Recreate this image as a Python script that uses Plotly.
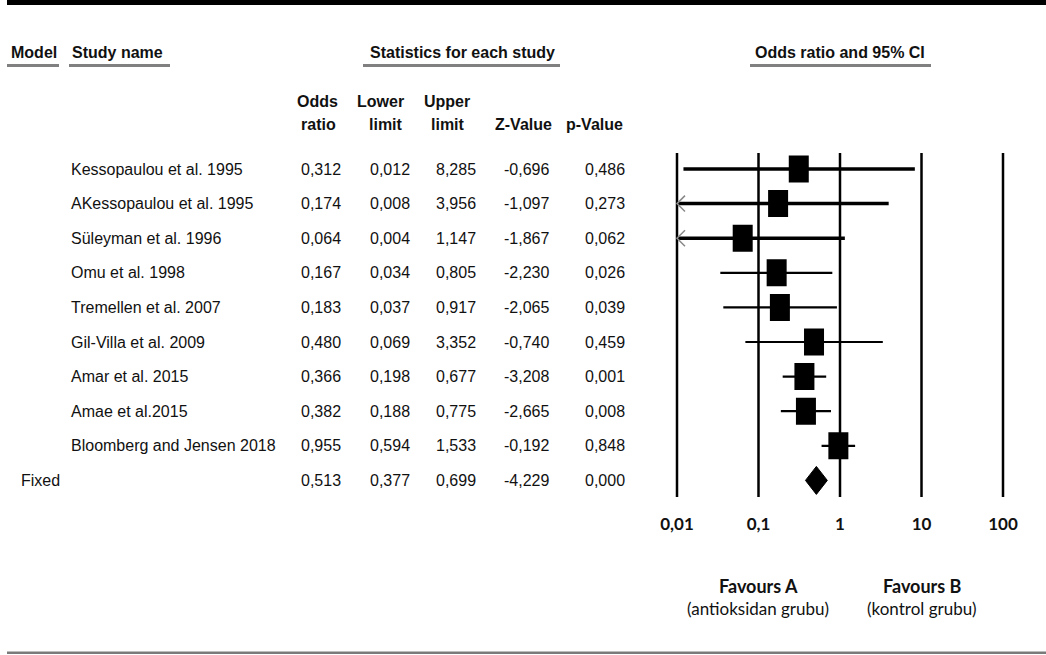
import plotly.graph_objects as go

# ---------------- data ----------------
studies = ["Kessopaulou et al. 1995", "AKessopaulou et al. 1995", "Süleyman et al. 1996",
           "Omu et al. 1998", "Tremellen et al. 2007", "Gil-Villa et al. 2009",
           "Amar et al. 2015", "Amae et al.2015", "Bloomberg and Jensen 2018"]
odds = [0.312, 0.174, 0.064, 0.167, 0.183, 0.480, 0.366, 0.382, 0.955]
lower = [0.012, 0.008, 0.004, 0.034, 0.037, 0.069, 0.198, 0.188, 0.594]
upper = [8.285, 3.956, 1.147, 0.805, 0.917, 3.352, 0.677, 0.775, 1.533]
zval = [-0.696, -1.097, -1.867, -2.230, -2.065, -0.740, -3.208, -2.665, -0.192]
pval = [0.486, 0.273, 0.062, 0.026, 0.039, 0.459, 0.001, 0.008, 0.848]

fixed_label = "Fixed"
fixed_or, fixed_lo, fixed_hi, fixed_z, fixed_p = 0.513, 0.377, 0.699, -4.229, 0.000

tick_vals = [0.01, 0.1, 1, 10, 100]
tick_text = ["0,01", "0,1", "1", "10", "100"]

# ---------------- layout constants ----------------
W, H = 1046, 655
ROW0, ROWH = 169, 34.6          # pixel y of first row, row spacing
DEC = 81.5                      # pixels per decade
X1PX = 840                      # pixel of OR = 1
AXMIN, AXMAX = -2.1, 2.1
SANS = "Liberation Sans, Arial, sans-serif"
CAL = "Lato, Carlito, Calibri, sans-serif"
INK = "#111111"
FS = 16


def px2row(p):
    return (p - ROW0) / ROWH


def fx(p):
    return p / W


def fy(p):
    return 1 - p / H


fig = go.Figure()

n = len(studies)
rows = list(range(n))
fixed_row = n

# CI lines
for i in rows:
    lo = max(lower[i], tick_vals[0])
    width = 3.5 if i < 3 else 2.2
    fig.add_trace(go.Scatter(x=[lo, upper[i]], y=[i, i], mode="lines",
                             line=dict(color="black", width=width),
                             hoverinfo="skip", showlegend=False))
    if lower[i] < tick_vals[0]:
        # truncated arrow head at the axis minimum
        arm = tick_vals[0] * 10 ** (8 / DEC)
        fig.add_trace(go.Scatter(x=[arm, tick_vals[0], arm], y=[i - 0.23, i, i + 0.23],
                                 mode="lines", line=dict(color="#8a8a8a", width=1.5),
                                 hoverinfo="skip", showlegend=False))

# Diamond for fixed effect
dh = 14 / ROWH
fig.add_trace(go.Scatter(x=[fixed_lo, fixed_or, fixed_hi, fixed_or, fixed_lo],
                         y=[fixed_row, fixed_row - dh, fixed_row, fixed_row + dh, fixed_row],
                         mode="lines", fill="toself", fillcolor="black",
                         line=dict(color="black", width=1),
                         hoverinfo="skip", showlegend=False))

shapes = []
# vertical reference lines
for v in tick_vals:
    shapes.append(dict(type="line", xref="x", yref="y", x0=v, x1=v,
                       y0=px2row(153), y1=px2row(497),
                       line=dict(color="black", width=2.5), layer="below"))
# study boxes (20 px wide, 27 px tall)
bw = 10 / DEC
bh = 13.5 / ROWH
for i in rows:
    shapes.append(dict(type="rect", xref="x", yref="y",
                       x0=odds[i] * 10 ** (-bw), x1=odds[i] * 10 ** bw,
                       y0=i - bh, y1=i + bh,
                       fillcolor="black", line=dict(width=0)))

# top and bottom rules
shapes.append(dict(type="rect", xref="paper", yref="paper", x0=fx(7), x1=1, y0=fy(5), y1=fy(0),
                   fillcolor="black", line=dict(width=0)))
shapes.append(dict(type="rect", xref="paper", yref="paper", x0=fx(7), x1=1, y0=fy(654), y1=fy(651.5),
                   fillcolor="#7a7a7a", line=dict(width=0)))
# header underlines
for a, b in [(7, 59), (69, 170), (363, 560), (750, 931)]:
    shapes.append(dict(type="rect", xref="paper", yref="paper", x0=fx(a), x1=fx(b),
                       y0=fy(67), y1=fy(64), fillcolor="#808080", line=dict(width=0)))

ann = []


def text(x, y, s, anchor="left", bold=False, size=FS, font=SANS, color=INK):
    ann.append(dict(x=fx(x), y=fy(y), xref="paper", yref="paper", text=f"<b>{s}</b>" if bold else s,
                    showarrow=False, xanchor=anchor, yanchor="middle",
                    font=dict(family=font, size=size, color=color)))


# headers
text(9, 52, "Model", bold=True)
text(70, 52, "Study name", bold=True)
text(462, 52, "Statistics for each study", anchor="center", bold=True)
text(840, 52, "Odds ratio and 95% CI", anchor="center", bold=True)
for cx1, cx2, l1, l2 in [(317, 318, "Odds", "ratio"), (380, 386, "Lower", "limit"),
                         (447, 448, "Upper", "limit")]:
    text(cx1, 101, l1, anchor="center", bold=True)
    text(cx2, 125, l2, anchor="center", bold=True)
text(523, 125, "Z-Value", anchor="center", bold=True)
text(594, 125, "p-Value", anchor="center", bold=True)


def fmt(v):
    return f"{v:.3f}".replace(".", ",")


col_right = [343, 412, 478, 551, 627]


def add_row(r, name, name_x, vals):
    ann.append(dict(x=fx(name_x), y=r, xref="paper", yref="y", text=name, showarrow=False,
                    xanchor="left", yanchor="middle", font=dict(family=SANS, size=FS, color=INK)))
    for cx, v in zip(col_right, vals):
        ann.append(dict(x=fx(cx), y=r, xref="paper", yref="y", text=fmt(v), showarrow=False,
                        xanchor="right", yanchor="middle", font=dict(family=SANS, size=FS, color=INK)))


for i in rows:
    add_row(i, studies[i], 69, [odds[i], lower[i], upper[i], zval[i], pval[i]])
add_row(fixed_row, fixed_label, 19, [fixed_or, fixed_lo, fixed_hi, fixed_z, fixed_p])

# favours labels
text(758, 586, "Favours A", anchor="center", bold=True, size=18, font=CAL)
text(758, 608, "(antioksidan grubu)", anchor="center", size=17, font=CAL)
text(922, 586, "Favours B", anchor="center", bold=True, size=18, font=CAL)
text(922, 608, "(kontrol grubu)", anchor="center", size=17, font=CAL)

left_px = X1PX + AXMIN * DEC
right_px = X1PX + AXMAX * DEC

fig.update_layout(
    width=W, height=H, autosize=False,
    margin=dict(l=0, r=0, t=0, b=0, pad=0),
    paper_bgcolor="white", plot_bgcolor="white",
    showlegend=False,
    shapes=shapes, annotations=ann,
    xaxis=dict(type="log", range=[AXMIN, AXMAX], domain=[fx(left_px), fx(right_px)],
               anchor="free", position=(H - 512) / H, automargin=False,
               tickvals=tick_vals, ticktext=[f"<b>{t}</b>" for t in tick_text],
               ticks="", showline=False, showgrid=False, zeroline=False,
               tickfont=dict(family=CAL, size=17, color=INK)),
    yaxis=dict(range=[px2row(H), px2row(0)], domain=[0, 1], visible=False,
               automargin=False, showgrid=False, zeroline=False),
)

fig.write_html("out.html", config={"displayModeBar": False},
               post_script="document.body.style.margin='0';document.body.style.overflow='hidden';")
